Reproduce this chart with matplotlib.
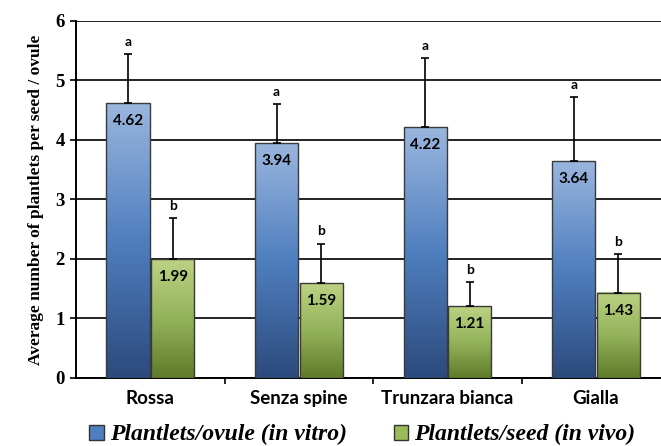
import numpy as np
import matplotlib
matplotlib.use("Agg")
import matplotlib.pyplot as plt
from matplotlib.colors import LinearSegmentedColormap
from matplotlib.patches import Patch

categories = ["Rossa", "Senza spine", "Trunzara bianca", "Gialla"]
in_vitro = [4.62, 3.94, 4.22, 3.64]
in_vivo = [1.99, 1.59, 1.21, 1.43]
in_vitro_err = [0.82, 0.66, 1.15, 1.08]
in_vivo_err = [0.69, 0.66, 0.40, 0.65]
in_vitro_letters = ["a", "a", "a", "a"]
in_vivo_letters = ["b", "b", "b", "b"]
series_names = ["Plantlets/ovule (in vitro)", "Plantlets/seed (in vivo)"]

blue_cmap = LinearSegmentedColormap.from_list("b", ["#2c4a7c", "#4f7fbf", "#9ab6de"])
green_cmap = LinearSegmentedColormap.from_list("g", ["#5f7b2a", "#93b35a", "#bcd283"])

fig = plt.figure(figsize=(6.61, 4.46), dpi=100)
ax = fig.add_axes([0.115, 0.153, 0.899, 0.800])

x = np.arange(len(categories))
w = 0.29
grad = np.linspace(0, 1, 256).reshape(-1, 1)

def gradient_bars(xpos, vals, cmap):
    bars = ax.bar(xpos, vals, width=w, facecolor="none", edgecolor="#3a3a3a",
                  linewidth=1.0, zorder=4)
    for b in bars:
        x0, y0 = b.get_x(), b.get_y()
        ax.imshow(grad, extent=[x0, x0 + b.get_width(), y0, y0 + b.get_height()],
                  origin="lower", cmap=cmap, aspect="auto", zorder=3)
    return bars

xb = x - w / 2 - 0.005
xg = x + w / 2 + 0.005
gradient_bars(xb, in_vitro, blue_cmap)
gradient_bars(xg, in_vivo, green_cmap)

ax.errorbar(xb, in_vitro, yerr=[np.zeros(4), in_vitro_err], fmt="none",
            ecolor="black", elinewidth=1.2, capsize=3, capthick=1.2, zorder=5)
ax.errorbar(xg, in_vivo, yerr=[np.zeros(4), in_vivo_err], fmt="none",
            ecolor="black", elinewidth=1.2, capsize=3, capthick=1.2, zorder=5)

for i in range(len(categories)):
    ax.text(xb[i], in_vitro[i] - 0.3, f"{in_vitro[i]:.2f}", ha="center", va="center",
            fontsize=11, fontweight="bold", family="Lato", zorder=6)
    ax.text(xg[i], in_vivo[i] - 0.3, f"{in_vivo[i]:.2f}", ha="center", va="center",
            fontsize=11, fontweight="bold", family="Lato", zorder=6)
    ax.text(xb[i], in_vitro[i] + in_vitro_err[i] + 0.21, in_vitro_letters[i], ha="center",
            va="center", fontsize=10, fontweight="bold", family="Lato")
    ax.text(xg[i], in_vivo[i] + in_vivo_err[i] + 0.21, in_vivo_letters[i], ha="center",
            va="center", fontsize=10, fontweight="bold", family="Lato")

ax.set_xlim(-0.5, len(categories) - 0.5)
ax.set_ylim(0, 6)
ax.set_yticks(range(7))
ax.yaxis.grid(True, color="#222222", linewidth=1.4, zorder=0)
ax.set_axisbelow(True)
for s in ["top", "right"]:
    ax.spines[s].set_visible(False)
ax.spines["left"].set_linewidth(1.4)
ax.spines["bottom"].set_linewidth(1.4)

ax.set_xticks(np.arange(0.5, len(categories) - 0.5), minor=False)
ax.set_xticklabels([])
ax.set_xticks(x, minor=True)
ax.set_xticklabels(categories, minor=True, fontsize=13.5, fontweight="bold", family="Lato")
ax.tick_params(axis="x", which="minor", length=0, pad=9)
ax.tick_params(axis="x", which="major", length=4, width=1.2, direction="out")
ax.tick_params(axis="y", length=4, width=1.2, direction="out", pad=4)
for lab in ax.get_yticklabels():
    lab.set_family("Liberation Serif")
    lab.set_fontweight("bold")
    lab.set_fontsize(13.5)

ax.set_ylabel("Average number of plantlets per seed / ovule", family="Liberation Serif",
              fontweight="bold", fontsize=12.5, labelpad=8)

handles = [Patch(facecolor="#4f7fbf", edgecolor="#333333"),
           Patch(facecolor="#9bbb59", edgecolor="#333333")]
fig.legend(handles, series_names, loc="center", bbox_to_anchor=(0.548, 0.025), ncol=2,
           frameon=False, handlelength=0.6, handleheight=0.6, handletextpad=0.25,
           columnspacing=2.0, borderpad=0,
           prop={"family": "Liberation Serif", "weight": "bold", "style": "italic", "size": 17})

fig.savefig("out.png", dpi=100)
